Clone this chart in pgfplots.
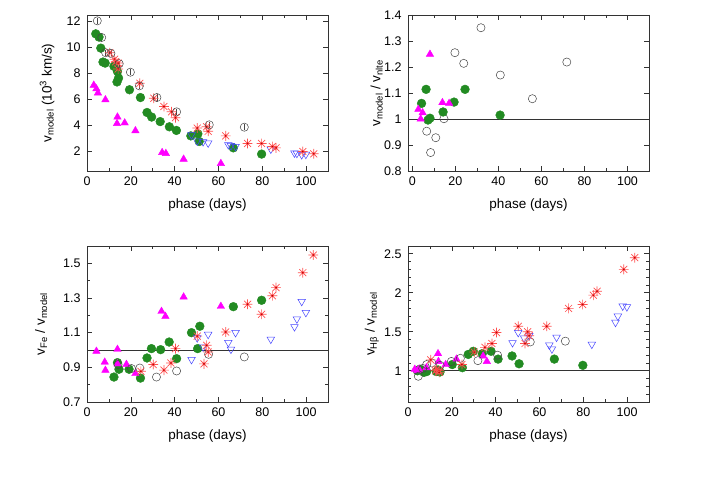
\documentclass[border=0pt]{standalone}
\usepackage{pgfplots}
\pgfplotsset{compat=1.18}
\usepackage{fontspec}
\setmainfont{Liberation Sans}

\definecolor{gGreen}{RGB}{34,139,34}
\definecolor{gMag}{RGB}{255,0,255}
\definecolor{gRed}{RGB}{255,80,80}
\definecolor{gRedC}{RGB}{190,0,0}
\definecolor{gBlue}{RGB}{70,70,255}
\definecolor{gGray}{RGB}{70,70,70}

% gnuplot-like 8-spoke asterisk with a dark centre dot
\pgfdeclareplotmark{ast}{%
  \pgfpathmoveto{\pgfqpoint{-\pgfplotmarksize}{0pt}}%
  \pgfpathlineto{\pgfqpoint{\pgfplotmarksize}{0pt}}%
  \pgfpathmoveto{\pgfqpoint{0pt}{-\pgfplotmarksize}}%
  \pgfpathlineto{\pgfqpoint{0pt}{\pgfplotmarksize}}%
  \pgfpathmoveto{\pgfqpoint{-.707\pgfplotmarksize}{-.707\pgfplotmarksize}}%
  \pgfpathlineto{\pgfqpoint{.707\pgfplotmarksize}{.707\pgfplotmarksize}}%
  \pgfpathmoveto{\pgfqpoint{-.707\pgfplotmarksize}{.707\pgfplotmarksize}}%
  \pgfpathlineto{\pgfqpoint{.707\pgfplotmarksize}{-.707\pgfplotmarksize}}%
  \pgfusepathqstroke
  \pgfpathcircle{\pgfpointorigin}{0.9pt}%
  \pgfusepathqfill
}

\pgfplotsset{
  panel/.style={
    width=241pt, height=156pt, scale only axis,
    xmin=0, xmax=110,
    xtick={0,20,...,100}, minor xtick={10,30,50,70,90,110},
    tick align=inside,
    major tick length=5pt, minor tick length=3pt,
    axis line style={line width=0.8pt, black!80},
    every tick/.style={black!80, line width=0.6pt},
    tick label style={font=\fontsize{12.5}{14}\selectfont},
    xticklabel style={yshift=-2pt},
    yticklabel style={xshift=-3pt},
    /pgf/number format/assume math mode=true,
    label style={font=\fontsize{13.5}{15}\selectfont},
    xlabel={phase (days)},
    xlabel style={at={(axis description cs:0.5,-0.215)}, anchor=center},
    clip=false,
  },
  pg/.style={only marks, mark=*, mark size=4.4pt, draw=gGreen, fill=gGreen},
  pm/.style={only marks, mark=triangle*, mark size=4.3pt, draw=gMag, fill=gMag},
  pk/.style={only marks, mark=o, mark size=4.1pt, draw=gGray, line width=0.5pt},
  pr/.style={only marks, mark=ast, mark size=4.9pt, draw=gRed, fill=gRedC, line width=0.7pt},
  pb/.style={only marks, mark=triangle, mark size=4.4pt, draw=gBlue, line width=0.5pt,
    every mark/.append style={rotate=180}},
  one/.style={black!80, line width=0.8pt, forget plot},
}

\begin{document}
\begin{tikzpicture}
\useasboundingbox (0,0) rectangle (706pt,494pt);

% ---------------- top left: v_model
\begin{axis}[panel, at={(87pt,323pt)}, anchor=south west,
  ymin=0.5, ymax=12.5, ytick={2,4,...,12},
  ylabel={v\textsubscript{model} (10\textsuperscript{3} km/s)},
  ylabel style={at={(axis description cs:-0.166,0.5)}, anchor=center}]
\addplot[pg] coordinates {(4.0,11.05) (5.5,10.8) (6.3,9.95) (7.3,8.88) (8.3,8.8)
  (12.3,8.55) (13.9,8.15) (14.4,7.65) (13.7,7.35) (19.4,6.75) (24.4,6.15) (27.4,5.0)
  (29.5,4.65) (33.4,4.3) (37.6,3.9) (40.8,3.62) (47.4,3.2) (50.6,3.36) (51.2,2.77)
  (66.8,2.28) (79.7,1.8)};
\addplot[pm] coordinates {(3.1,7.1) (4.3,6.82) (5.0,6.5) (8.4,5.98) (13.9,4.65)
  (13.7,4.15) (17.2,4.2) (22.1,3.6) (34.3,1.92) (36.0,1.85) (44.1,1.41) (61.1,1.08)};
\addplot[pb] coordinates {(47.7,3.28) (50.3,2.8) (53.0,2.75) (55.3,2.65) (64.5,2.52)
  (65.7,2.45) (67.8,2.38) (83.9,2.18) (94.7,1.88) (95.8,1.85) (98.0,1.75) (99.9,1.78)};
\addplot[pr] coordinates {(10.4,9.6) (12.6,9.1) (13.1,8.9) (14.2,8.8) (14.2,8.35)
  (24.1,7.25) (30.5,6.1) (35.1,5.46) (38.6,5.05) (40.4,4.6) (50.3,3.8) (54.6,3.9)
  (55.3,3.55) (63.3,3.2) (73.3,2.62) (79.7,2.62) (84.6,2.38) (86.3,2.28) (98.5,2.0)
  (103.5,1.82)};
\addplot[pk, error bars/.cd, y dir=both, y explicit,
  error bar style={gGray, line width=0.4pt}, error mark options={gGray, mark size=1.2pt}]
  coordinates {(4.7,12.05) +- (0,0.15) (6.7,10.77) +- (0,0.15) (8.5,9.6) +- (0,0.15)
  (10.9,9.55) +- (0,0.15) (14.7,8.75) +- (0,0.15) (19.8,8.1) +- (0,0.15)
  (23.9,7.05) +- (0,0.15) (31.9,6.15) +- (0,0.15) (40.9,5.05) +- (0,0.15)
  (55.8,4.05) +- (0,0.15) (71.8,3.87) +- (0,0.15)};
\end{axis}

% ---------------- top right: v_model / v_nlte
\begin{axis}[panel, at={(408pt,323pt)}, anchor=south west,
  xmin=-2, ymin=0.8, ymax=1.4, ytick={0.8,0.9,1,1.1,1.2,1.3,1.4},
  ylabel={v\textsubscript{model} / v\textsubscript{nlte}},
  ylabel style={at={(axis description cs:-0.13,0.5)}, anchor=center}]
\addplot[one] coordinates {(-2,1) (110,1)};
\addplot[pk] coordinates {(6.7,0.953) (8.5,0.871) (10.9,0.928) (14.7,1.001)
  (19.8,1.255) (23.9,1.214) (31.9,1.351) (40.9,1.169) (55.8,1.078) (71.8,1.219)};
\addplot[pg] coordinates {(4.3,1.06) (6.4,1.114) (7.3,0.996) (8.2,1.003) (14.3,1.027)
  (19.4,1.065) (24.5,1.114) (40.8,1.015)};
\addplot[pm] coordinates {(2.8,1.037) (3.9,1.0) (4.8,1.024) (8.2,1.249) (14.0,1.063)
  (17.1,1.06)};
\end{axis}

% ---------------- bottom left: v_Fe / v_model
\begin{axis}[panel, at={(87pt,92pt)}, anchor=south west,
  ymin=0.7, ymax=1.6, ytick={0.7,0.9,1.1,1.3,1.5}, minor ytick={0.8,1.0,1.2,1.4,1.6},
  ylabel={v\textsubscript{Fe} / v\textsubscript{model}},
  ylabel style={at={(axis description cs:-0.19,0.5)}, anchor=center}]
\addplot[one] coordinates {(0,1) (110,1)};
\addplot[pg] coordinates {(12.3,0.844) (13.9,0.927) (14.6,0.889) (19.2,0.889)
  (24.4,0.838) (27.4,0.954) (29.4,1.008) (33.6,1.002) (37.5,1.046) (40.9,0.95)
  (47.7,1.10) (51.5,1.137) (50.5,1.008) (66.8,1.25) (79.7,1.287)};
\addplot[pm] coordinates {(4.3,0.993) (13.9,1.004) (8.1,0.93) (8.4,0.883) (13.9,0.92)
  (18.0,0.917) (22.1,0.864) (34.0,1.223) (35.8,1.194) (44.1,1.306) (61.1,1.252)};
\addplot[pk] coordinates {(14.2,0.916) (20.3,0.893) (24.1,0.896) (31.7,0.844)
  (40.9,0.879) (55.5,0.975) (71.8,0.96)};
\addplot[pb] coordinates {(47.7,0.945) (50.3,1.07) (53.0,1.017) (55.3,1.09) (64.5,1.043)
  (65.7,1.004) (67.8,1.10) (83.9,1.062) (94.7,1.134) (95.8,1.179) (98.0,1.28) (99.9,1.216)};
\addplot[pr] coordinates {(24.6,0.877) (30.2,0.916) (35.1,0.884) (38.3,0.925) (40.4,1.008)
  (50.3,1.08) (53.4,0.92) (54.6,1.027) (55.3,0.988) (63.3,1.104) (73.3,1.264)
  (79.7,1.206) (84.6,1.313) (86.3,1.36) (98.5,1.446) (103.3,1.548)};
\end{axis}

% ---------------- bottom right: v_Hbeta / v_model
\begin{axis}[panel, at={(408pt,92pt)}, anchor=south west,
  ymin=0.6, ymax=2.6, ytick={1,1.5,2,2.5},
  minor ytick={0.6,0.7,0.8,0.9,1.1,1.2,1.3,1.4,1.6,1.7,1.8,1.9,2.1,2.2,2.3,2.4,2.6},
  ylabel={v\textsubscript{Hβ} / v\textsubscript{model}},
  ylabel style={at={(axis description cs:-0.15,0.5)}, anchor=center}]
\addplot[one] coordinates {(0,1) (110,1)};
\addplot[pg] coordinates {(4.3,1.0) (5.4,1.02) (7.3,0.98) (8.5,0.99) (12.9,0.99)
  (14.6,0.985) (13.7,1.01) (20.2,1.08) (24.8,1.04) (27.5,1.21) (29.8,1.25) (33.9,1.22)
  (37.9,1.25) (41.1,1.15) (47.5,1.19) (50.7,1.09) (66.8,1.15) (79.8,1.07)};
\addplot[pm] coordinates {(3.1,1.02) (4.3,1.0) (5.0,1.02) (8.4,1.04) (13.7,1.22)
  (13.9,1.12) (17.2,1.08) (22.1,1.15) (34.3,1.19) (36.0,1.12)};
\addplot[pk] coordinates {(4.7,0.93) (6.7,1.03) (8.5,1.08) (10.9,1.1) (14.7,1.07)
  (19.8,1.12) (23.9,1.16) (31.9,1.13) (40.9,1.2) (55.8,1.37) (71.8,1.38)};
\addplot[pb] coordinates {(47.7,1.36) (50.3,1.49) (53.0,1.42) (55.3,1.45) (64.5,1.33)
  (65.7,1.28) (67.8,1.43) (83.9,1.34) (94.7,1.62) (95.8,1.7) (98.0,1.83) (99.9,1.82)};
\addplot[pr] coordinates {(10.4,1.14) (12.6,1.0) (13.1,1.02) (14.2,1.0) (14.2,0.98)
  (24.6,1.08) (30.2,1.24) (35.1,1.3) (38.3,1.35) (40.4,1.49) (50.3,1.57) (53.4,1.35)
  (54.6,1.5) (55.3,1.45) (63.3,1.57) (73.3,1.8) (79.7,1.85) (84.6,1.97) (86.3,2.02)
  (98.5,2.3) (103.5,2.45)};
\end{axis}
\end{tikzpicture}
\end{document}
